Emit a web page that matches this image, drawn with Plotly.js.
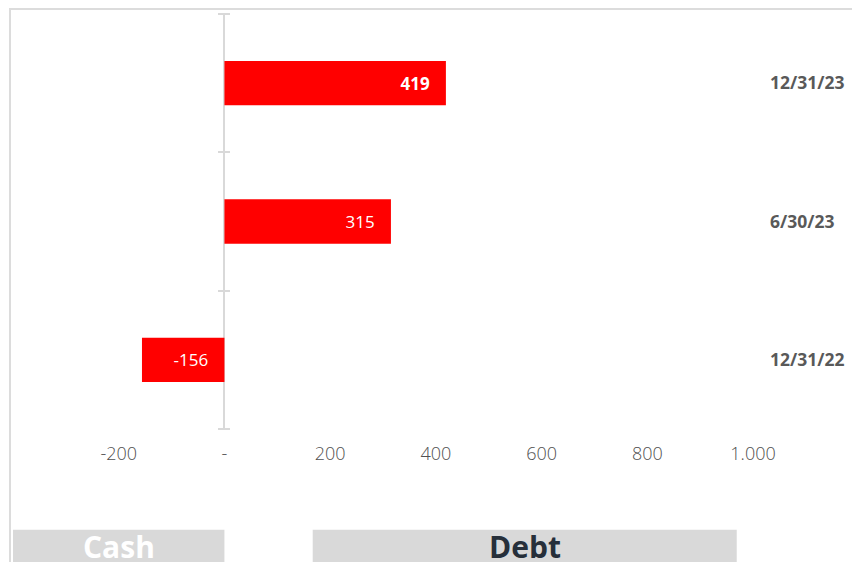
<!DOCTYPE html>
<html>
<head>
<meta charset="utf-8">
<script src="https://cdn.plot.ly/plotly-3.0.1.min.js"></script>
<style>
html,body{margin:0;padding:0;background:#fff;}
#wrap{position:relative;width:852px;height:562px;overflow:hidden;}
#chart{width:852px;height:562px;}
#frame{position:absolute;left:9px;top:8px;width:900px;height:600px;border-top:2px solid #dcdcdc;border-left:2px solid #dcdcdc;pointer-events:none;}
</style>
</head>
<body>
<div id="wrap"><div id="chart"></div><div id="frame"></div></div>
<script>
const categories = ["12/31/22", "6/30/23", "12/31/23"];
const values = [-156, 315, 419];
const boldLabel = [false, false, true];
const tickVals = [-200, 0, 200, 400, 600, 800, 1000];
const tickText = ["-200", "-", "200", "400", "600", "800", "1.000"];
const xRange = [-400, 1000];
const groupLabels = ["Cash", "Debt"];

const red = "#ff0000";
const gray = "#595959";
const axisGray = "#d9d9d9";
const pad = "\u00a0\u00a0\u00a0";
const fontFam = "Open Sans, Lato, sans-serif";

function labelFor(i) {
  const s = String(values[i]);
  return (boldLabel[i] ? "<b>" + s + "</b>" : s) + pad;
}

const posX = values.map(v => v >= 0 ? v : null);
const negX = values.map(v => v < 0 ? v : null);

const traces = [
  {
    type: "bar", orientation: "h", y: categories, x: posX,
    text: values.map((v, i) => v >= 0 ? labelFor(i) : ""),
    textposition: "inside", insidetextanchor: "end", constraintext: "none",
    textfont: {family: fontFam, size: 17, color: "#ffffff"},
    marker: {color: red}, width: 0.32, hoverinfo: "skip", showlegend: false
  },
  {
    type: "bar", orientation: "h", y: categories, x: negX,
    text: values.map((v, i) => v < 0 ? labelFor(i) : ""),
    textposition: "inside", insidetextanchor: "start", constraintext: "none",
    textfont: {family: fontFam, size: 17, color: "#ffffff"},
    marker: {color: red}, width: 0.32, hoverinfo: "skip", showlegend: false
  },
  {
    type: "scatter", mode: "markers", y: categories, x: values, yaxis: "y3",
    marker: {opacity: 0}, hoverinfo: "skip", showlegend: false
  }
];

const plotW = 852 - 13 - 99;
const zeroPos = (0 - xRange[0]) / (xRange[1] - xRange[0]);
const yCommon = {
  type: "category", categoryorder: "array", categoryarray: categories,
  range: [-0.5, categories.length - 0.5], fixedrange: true, showgrid: false, zeroline: false
};

const layout = {
  width: 852, height: 562,
  margin: {l: 13, r: 99, t: 14, b: 133},
  paper_bgcolor: "#ffffff", plot_bgcolor: "#ffffff",
  barmode: "relative",
  font: {family: fontFam, color: gray},
  xaxis: {
    range: xRange, tickvals: tickVals, ticktext: tickText,
    showgrid: false, zeroline: true, zerolinecolor: axisGray, zerolinewidth: 2,
    showline: false, ticks: "",
    ticklabelstandoff: 12,
    tickfont: {family: fontFam, size: 18, color: "#505050", weight: 300}
  },
  yaxis: Object.assign({}, yCommon, {
    anchor: "free", position: zeroPos + 6 / plotW, side: "left", showline: false,
    ticks: "outside", tickson: "boundaries", ticklen: 12, tickwidth: 2, tickcolor: axisGray,
    showticklabels: false
  }),
  yaxis3: Object.assign({}, yCommon, {
    overlaying: "y", anchor: "x", side: "right", showline: false, ticks: "",
    ticklabelstandoff: 16,
    tickfont: {family: fontFam, size: 17.5, color: gray, weight: 700}
  }),
  shapes: [
    {type: "rect", xref: "x", yref: "paper", x0: xRange[0], x1: 0, y0: -0.243, y1: -0.4,
     fillcolor: axisGray, line: {width: 0}, layer: "below"},
    {type: "rect", xref: "paper", yref: "paper", x0: 0.405, x1: 0.978, y0: -0.243, y1: -0.4,
     fillcolor: axisGray, line: {width: 0}, layer: "below"}
  ],
  annotations: [
    {xref: "x", yref: "paper", x: xRange[0] / 2, y: -0.284, xanchor: "center", yanchor: "middle", showarrow: false,
     text: "<b>" + groupLabels[0] + "</b>", font: {family: fontFam, size: 30, color: "#ffffff"}},
    {xref: "paper", yref: "paper", x: 0.6915, y: -0.284, xanchor: "center", yanchor: "middle", showarrow: false,
     text: "<b>" + groupLabels[1] + "</b>", font: {family: fontFam, size: 30, color: "#262f3a"}}
  ]
};

Plotly.newPlot("chart", traces, layout, {displayModeBar: false, staticPlot: true});
</script>
</body>
</html>
